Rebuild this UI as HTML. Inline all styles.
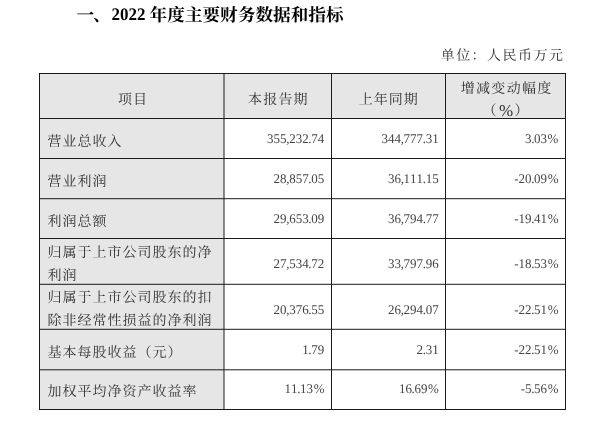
<!DOCTYPE html>
<html lang="zh-CN">
<head>
<meta charset="utf-8">
<title>2022 年度主要财务数据和指标</title>
<style>
html,body{margin:0;padding:0;background:#fff;}
body{width:600px;height:425px;overflow:hidden;font-family:"Liberation Serif","Noto Serif CJK SC",serif;}
svg{display:block;will-change:transform;}
svg text{font-family:"Liberation Serif","Noto Serif CJK SC",serif;white-space:pre;text-rendering:geometricPrecision;}
.sr{position:absolute;left:0;top:0;width:1px;height:1px;margin:-1px;padding:0;overflow:hidden;clip:rect(0 0 0 0);clip-path:inset(50%);white-space:nowrap;border:0;opacity:0;font-family:"Liberation Serif","Noto Serif CJK SC",serif;}
</style>
</head>
<body>
<svg width="600" height="425" viewBox="0 0 600 425" role="img" aria-label="2022 年度主要财务数据和指标">
<rect width="600" height="425" fill="#fff"/>
<g><rect x="39.5" y="73.5" width="526.0" height="45.0" fill="#e6e6e6"/><rect x="39.5" y="118.5" width="184.5" height="291.0" fill="#e6e6e6"/></g>
<g stroke="#1a1a1a" stroke-width="1"><line x1="39.0" y1="73.5" x2="566.0" y2="73.5"/><line x1="39.0" y1="118.5" x2="566.0" y2="118.5"/><line x1="39.0" y1="158.5" x2="566.0" y2="158.5"/><line x1="39.0" y1="198.7" x2="566.0" y2="198.7"/><line x1="39.0" y1="238.5" x2="566.0" y2="238.5"/><line x1="39.0" y1="284.3" x2="566.0" y2="284.3"/><line x1="39.0" y1="329.3" x2="566.0" y2="329.3"/><line x1="39.0" y1="369.8" x2="566.0" y2="369.8"/><line x1="39.0" y1="409.5" x2="566.0" y2="409.5"/><line x1="39.5" y1="73.0" x2="39.5" y2="410.0"/><line x1="224.0" y1="73.0" x2="224.0" y2="410.0"/><line x1="331.5" y1="73.0" x2="331.5" y2="410.0"/><line x1="445.5" y1="73.0" x2="445.5" y2="410.0"/><line x1="565.5" y1="73.0" x2="565.5" y2="410.0"/></g>
<text x="76.4 93.0" y="21.0" font-size="17.6" font-weight="bold" fill="#000">一、</text>
<text x="111.6" y="20.1" font-size="17.6" font-weight="bold" fill="#000" textLength="34" lengthAdjust="spacingAndGlyphs">2022</text>
<text x="149.6 167.3 184.9 202.5 220.1 237.8 255.4 273.0 290.7 308.3 325.9" y="21.3" font-size="17.6" font-weight="bold" fill="#000">年度主要财务数据和指标</text>
<text x="440.7 456.2 471.6 487.1 502.5 518.0 533.4 548.9" y="59.7" font-size="14" fill="#333">单位：人民币万元</text>
<text x="118.1 133.1" y="104.4" font-size="14" fill="#333">项目</text>
<text x="248.0 263.2 278.4 293.6" y="104.4" font-size="14" fill="#333">本报告期</text>
<text x="358.8 373.8 388.8 403.8" y="104.4" font-size="14" fill="#333">上年同期</text>
<text x="460.75 476.05 491.35 506.65 521.95 537.25" y="93.2" font-size="14" fill="#333">增减变动幅度</text>
<text x="482.4" y="115.3" font-size="14" fill="#333">（</text>
<text x="506.0" y="115.7" font-size="16.5" text-anchor="middle" fill="#333" transform="translate(506 0) scale(1.03 1) translate(-506 0)">%</text>
<text x="514.5" y="115.3" font-size="14" fill="#333">）</text>
<text x="47.6 62.6 77.6 92.6 107.6" y="146.1" font-size="14" fill="#333">营业总收入</text>
<text transform="translate(267.10 143.00) scale(0.985 1)" x="0.00 6.60 13.20 19.47 22.44 29.04 35.63 41.90 44.87 51.47" y="0" font-size="13.2" fill="#454545">355,232.74</text>
<text transform="translate(381.50 143.00) scale(0.985 1)" x="0.00 6.60 13.20 19.47 22.44 29.04 35.63 41.90 44.87 51.47" y="0" font-size="13.2" fill="#454545">344,777.31</text>
<text transform="translate(525.00 143.00) scale(0.985 1)" x="0.00 6.27 9.24 15.84 22.98" y="0" font-size="13.2" fill="#454545">3.03%</text>
<text x="47.6 62.6 77.6 92.6" y="186.2" font-size="14" fill="#333">营业利润</text>
<text transform="translate(273.60 183.00) scale(0.985 1)" x="0.00 6.60 12.87 15.84 22.44 29.04 35.30 38.27 44.87" y="0" font-size="13.2" fill="#454545">28,857.05</text>
<text transform="translate(388.00 183.00) scale(0.985 1)" x="0.00 6.60 12.87 15.84 22.44 29.04 35.30 38.27 44.87" y="0" font-size="13.2" fill="#454545">36,111.15</text>
<text transform="translate(514.14 183.00) scale(0.985 1)" x="0.00 4.43 11.03 17.30 20.27 26.87 34.01" y="0" font-size="13.2" fill="#454545">-20.09%</text>
<text x="47.6 62.6 77.6 92.6" y="226.2" font-size="14" fill="#333">利润总额</text>
<text transform="translate(273.60 222.80) scale(0.985 1)" x="0.00 6.60 12.87 15.84 22.44 29.04 35.30 38.27 44.87" y="0" font-size="13.2" fill="#454545">29,653.09</text>
<text transform="translate(388.00 222.80) scale(0.985 1)" x="0.00 6.60 12.87 15.84 22.44 29.04 35.30 38.27 44.87" y="0" font-size="13.2" fill="#454545">36,794.77</text>
<text transform="translate(514.14 222.80) scale(0.985 1)" x="0.00 4.43 11.03 17.30 20.27 26.87 34.01" y="0" font-size="13.2" fill="#454545">-19.41%</text>
<text x="47.6 62.6 77.6 92.6 107.6 122.6 137.6 152.6 167.6 182.6 197.6" y="256.9" font-size="14" fill="#333">归属于上市公司股东的净</text>
<text x="47.6 62.6" y="279.5" font-size="14" fill="#333">利润</text>
<text transform="translate(273.60 268.20) scale(0.985 1)" x="0.00 6.60 12.87 15.84 22.44 29.04 35.30 38.27 44.87" y="0" font-size="13.2" fill="#454545">27,534.72</text>
<text transform="translate(388.00 268.20) scale(0.985 1)" x="0.00 6.60 12.87 15.84 22.44 29.04 35.30 38.27 44.87" y="0" font-size="13.2" fill="#454545">33,797.96</text>
<text transform="translate(514.14 268.20) scale(0.985 1)" x="0.00 4.43 11.03 17.30 20.27 26.87 34.01" y="0" font-size="13.2" fill="#454545">-18.53%</text>
<text x="47.6 62.6 77.6 92.6 107.6 122.6 137.6 152.6 167.6 182.6 197.6" y="302.3" font-size="14" fill="#333">归属于上市公司股东的扣</text>
<text x="47.6 62.6 77.6 92.6 107.6 122.6 137.6 152.6 167.6 182.6 197.6" y="324.9" font-size="14" fill="#333">除非经常性损益的净利润</text>
<text transform="translate(273.60 314.20) scale(0.985 1)" x="0.00 6.60 12.87 15.84 22.44 29.04 35.30 38.27 44.87" y="0" font-size="13.2" fill="#454545">20,376.55</text>
<text transform="translate(388.00 314.20) scale(0.985 1)" x="0.00 6.60 12.87 15.84 22.44 29.04 35.30 38.27 44.87" y="0" font-size="13.2" fill="#454545">26,294.07</text>
<text transform="translate(514.14 314.20) scale(0.985 1)" x="0.00 4.43 11.03 17.30 20.27 26.87 34.01" y="0" font-size="13.2" fill="#454545">-22.51%</text>
<text x="47.6 62.6 77.6 92.6 107.6 122.6 137.6 152.6 167.6" y="357.15" font-size="14" fill="#333">基本每股收益（元）</text>
<text transform="translate(302.20 353.60) scale(0.985 1)" x="0.00 6.27 9.24 15.84" y="0" font-size="13.2" fill="#454545">1.79</text>
<text transform="translate(416.60 353.60) scale(0.985 1)" x="0.00 6.27 9.24 15.84" y="0" font-size="13.2" fill="#454545">2.31</text>
<text transform="translate(514.14 353.60) scale(0.985 1)" x="0.00 4.43 11.03 17.30 20.27 26.87 34.01" y="0" font-size="13.2" fill="#454545">-22.51%</text>
<text x="47.6 62.6 77.6 92.6 107.6 122.6 137.6 152.6 167.6 182.6" y="396.25" font-size="14" fill="#333">加权平均净资产收益率</text>
<text transform="translate(284.50 393.00) scale(0.985 1)" x="0.00 6.60 12.87 15.84 22.44 29.58" y="0" font-size="13.2" fill="#454545">11.13%</text>
<text transform="translate(398.90 393.00) scale(0.985 1)" x="0.00 6.60 12.87 15.84 22.44 29.58" y="0" font-size="13.2" fill="#454545">16.69%</text>
<text transform="translate(520.64 393.00) scale(0.985 1)" x="0.00 4.43 10.70 13.67 20.27 27.41" y="0" font-size="13.2" fill="#454545">-5.56%</text>
</svg>
<div class="sr"><h1>一、2022 年度主要财务数据和指标</h1><p>单位：人民币万元</p><table><tr><th>项目</th><th>本报告期</th><th>上年同期</th><th>增减变动幅度（%）</th></tr><tr><td>营业总收入</td><td>355,232.74</td><td>344,777.31</td><td>3.03%</td></tr><tr><td>营业利润</td><td>28,857.05</td><td>36,111.15</td><td>-20.09%</td></tr><tr><td>利润总额</td><td>29,653.09</td><td>36,794.77</td><td>-19.41%</td></tr><tr><td>归属于上市公司股东的净利润</td><td>27,534.72</td><td>33,797.96</td><td>-18.53%</td></tr><tr><td>归属于上市公司股东的扣除非经常性损益的净利润</td><td>20,376.55</td><td>26,294.07</td><td>-22.51%</td></tr><tr><td>基本每股收益（元）</td><td>1.79</td><td>2.31</td><td>-22.51%</td></tr><tr><td>加权平均净资产收益率</td><td>11.13%</td><td>16.69%</td><td>-5.56%</td></tr></table></div>
</body>
</html>
